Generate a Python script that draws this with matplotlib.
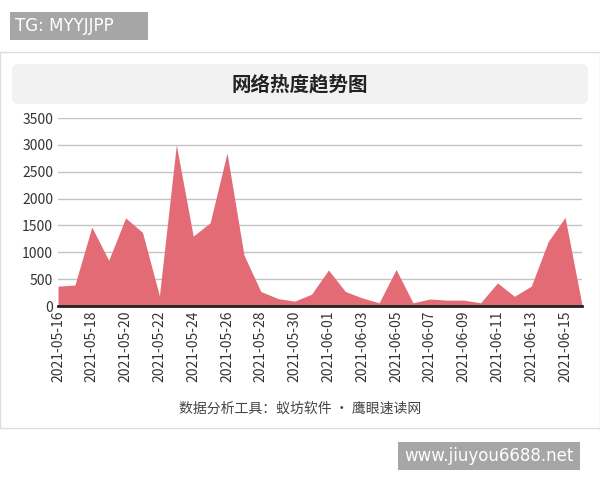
import matplotlib
matplotlib.use("Agg")
import matplotlib.pyplot as plt
from matplotlib.patches import FancyBboxPatch, Rectangle
import pandas as pd

plt.rcParams['font.family'] = ['Noto Sans CJK SC', 'DejaVu Sans']

dates = pd.date_range("2021-05-16", "2021-06-16").strftime("%Y-%m-%d").tolist()
values = [370, 390, 1470, 850, 1640, 1370, 190, 3000, 1300, 1550, 2850, 950,
          270, 140, 90, 220, 670, 270, 150, 60, 680, 60, 130, 110, 110, 60,
          430, 180, 370, 1200, 1650, 20]
yticks = [0, 500, 1000, 1500, 2000, 2500, 3000, 3500]
title = "网络热度趋势图"
footer = "数据分析工具：蚁坊软件 • 鹰眼速读网"

fig = plt.figure(figsize=(6, 4.8), dpi=100)
W, H = 600, 480
def fx(x): return x / W
def fy(y): return 1 - y / H

fig.patches.append(Rectangle((fx(0), fy(428)), 1, (428-52)/H, transform=fig.transFigure,
                             facecolor='white', edgecolor='#dddddd', lw=1, zorder=-10))
fig.patches.append(FancyBboxPatch((fx(12), fy(104)), 576/W, 40/H, boxstyle="round,pad=0,rounding_size=0.012",
                                  transform=fig.transFigure, facecolor='#f2f2f2', edgecolor='none', zorder=-9))
fig.text(0.5, fy(85), title, ha='center', va='center', fontsize=14, fontweight='bold', color='#222222')
fig.text(0.5, fy(409), footer, ha='center', va='center', fontsize=10, color='#444444')
fig.patches.append(Rectangle((fx(10), fy(40)), 138/W, 28/H, transform=fig.transFigure,
                             facecolor='#a6a6a6', edgecolor='none'))
fig.text(fx(15), fy(26), "TG: MYYJJPP", ha='left', va='center', fontsize=12, color='white', family='DejaVu Sans')
fig.patches.append(Rectangle((fx(398), fy(470)), 182/W, 28/H, transform=fig.transFigure,
                             facecolor='#a6a6a6', edgecolor='none'))
fig.text(fx(489), fy(456), "www.jiuyou6688.net", ha='center', va='center', fontsize=12, color='white', family='DejaVu Sans')

ax = fig.add_axes([fx(58), fy(306), (582-58)/W, (306-118)/H])
x = list(range(len(dates)))
ax.fill_between(x, values, 0, color='#e36b75', lw=0)
ax.set_xlim(0, len(dates)-1)
ax.set_ylim(0, 3500)
ax.set_yticks(yticks)
ax.set_xticks(x[::2])
ax.set_xticklabels(dates[::2], rotation=90, fontsize=10, color='#333333')
ax.tick_params(axis='y', labelsize=10, colors='#333333', length=0)
ax.tick_params(axis='x', length=0)
ax.grid(axis='y', color='#c4c4c4', lw=1)
ax.set_axisbelow(True)
for s in ['top', 'right', 'left']:
    ax.spines[s].set_visible(False)
ax.spines['bottom'].set_color('#222222')
ax.spines['bottom'].set_linewidth(2)
ax.set_facecolor('none')

fig.savefig("out.png", dpi=100)
